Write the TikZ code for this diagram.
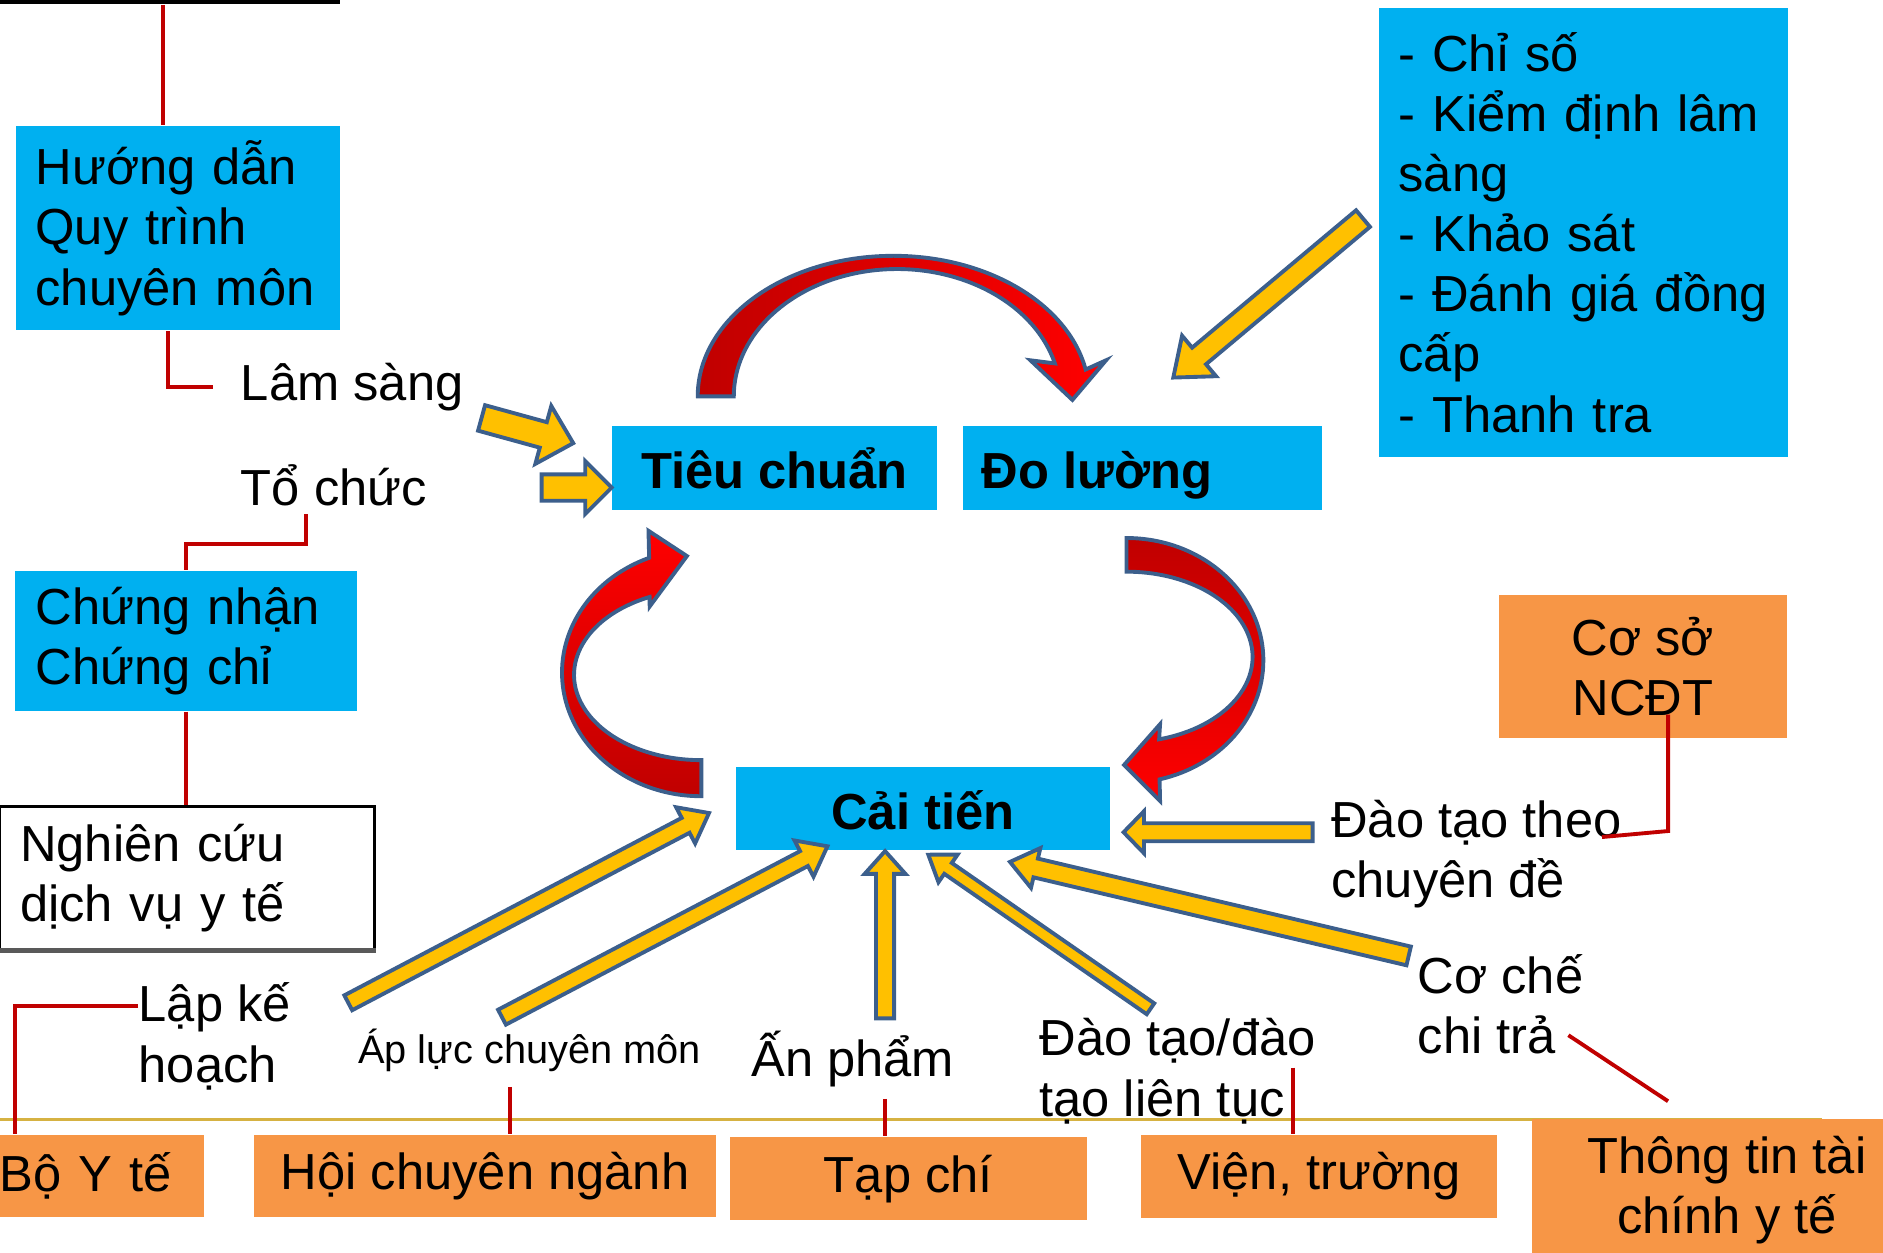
\documentclass[tikz,border=0pt]{standalone}
\usepackage{fontspec}
\setmainfont{Liberation Sans}
\usetikzlibrary{calc}
\lefthyphenmin=62

\definecolor{cyanbox}{RGB}{0,176,240}
\definecolor{orangebox}{RGB}{247,150,70}
\definecolor{yellowarr}{RGB}{255,192,0}
\definecolor{edgeblue}{RGB}{60,95,140}
\definecolor{linered}{RGB}{192,0,0}
\definecolor{darkred}{RGB}{192,0,0}
\definecolor{brightred}{RGB}{255,0,0}
\definecolor{goldline}{RGB}{214,178,66}

\tikzset{
  txt/.style={inner sep=0pt, font=\fontsize{14.4}{17.1}\selectfont},
  bluebox/.style={txt, fill=cyanbox},
  boldbox/.style={bluebox, font=\fontsize{14.4}{17.1}\selectfont\bfseries, text height=11.5pt, text depth=0pt},
  orangebx/.style={txt, fill=orangebox, align=center},
  redline/.style={draw=linered, line width=1.1pt},
  yarr/.style={fill=yellowarr, draw=edgeblue, line width=1.1pt, line join=miter},
  curvearr/.style={draw=edgeblue, line width=1.1pt, line join=miter},
}

% block arrow: tail, tip, shaft half width, head half width, head length
\newcommand{\blockarrow}[5]{%
  \coordinate (neck) at ($(#2)!#5!(#1)$);
  \draw[yarr] ($(#1)!#3!90:(#2)$) -- ($(neck)!#3!-90:(#1)$) -- ($(neck)!#4!-90:(#1)$) -- (#2)
    -- ($(neck)!#4!90:(#1)$) -- ($(neck)!#3!90:(#1)$) -- ($(#1)!#3!-90:(#2)$) -- cycle;
}

\begin{document}
\begin{tikzpicture}[x=0.012cm, y=-0.012cm]
\useasboundingbox (0,0) rectangle (1568,1043);
\clip (0,0) rectangle (1568,1043);

% boxes
\node[bluebox, minimum width=3.24cm, minimum height=2.04cm, text width=2.84cm, align=left] (hd) at (148,190) {Hướng dẫn\\Quy trình\\chuyên môn};
\node[bluebox, minimum width=3.41cm, minimum height=1.40cm, text width=3.01cm, align=left] (cn) at (155,533.5) {Chứng nhận\\Chứng chỉ};
\node[txt, draw=black, line width=0.8pt, fill=white, minimum width=3.74cm, minimum height=1.42cm, text width=3.34cm, align=left] (nc) at (156,731) {Nghiên cứu\\dịch vụ y tế};
\draw[gray!70!black, line width=1.4pt] (nc.south west) -- (nc.south east);
\node[boldbox, minimum width=3.24cm, minimum height=0.84cm] (tc) at (645,390) {Tiêu chuẩn};
\node[boldbox, minimum width=3.59cm, minimum height=0.84cm] (dl) at (951.5,390) {\makebox[3.21cm][l]{Đo lường}};
\node[boldbox, minimum width=3.73cm, minimum height=0.83cm] (ct) at (768.5,673.5) {Cải tiến};
\node[bluebox, minimum width=4.09cm, minimum height=4.48cm, text width=3.69cm, align=left] (lst) at (1318.5,193.5) {- Chỉ số\\- Kiểm định lâm\\sàng\\- Khảo sát\\- Đánh giá đồng\\cấp\\- Thanh tra};
\node[orangebx, minimum width=2.88cm, minimum height=1.42cm] (ncdt) at (1368,555) {Cơ sở\\NCĐT};

% bottom row
\draw[goldline, line width=0.9pt] (0,932) -- (1517,932);
\node[orangebx, text width=2.04cm, minimum height=0.82cm, align=left] (byt) at (85,979) {Bộ Y tế};
\node[orangebx, minimum width=4.61cm, minimum height=0.82cm] (hcn) at (404,979) {Hội chuyên ngành};
\node[orangebx, minimum width=3.56cm, minimum height=0.83cm] (tapc) at (756.5,981.5) {Tạp chí};
\node[orangebx, minimum width=3.56cm, minimum height=0.83cm] (vt) at (1098.5,979.5) {Viện, trường};
\node[orangebx, minimum width=3.89cm, minimum height=1.42cm] (ttc) at (1438,991) {Thông tin tài\\chính y tế};

% labels
\node[txt, anchor=west] (lam) at (200,322) {Lâm sàng};
\node[txt, anchor=west] (toc) at (200,404) {Tổ chức};
\node[txt, anchor=west, align=left] (lap) at (115,863) {Lập kế\\hoạch};
\node[inner sep=0pt, font=\fontsize{11.3}{13}\selectfont] (aplc) at (441,875) {Áp lực chuyên môn};
\node[txt] (anp) at (710,882) {Ấn phẩm};
\node[txt, anchor=west, align=left] (dtlt) at (865,892) {Đào tạo/đào\\tạo liên tục};
\node[txt, anchor=west, align=left] (cctr) at (1180,836) {Cơ chế\\chi trả};
\node[txt, anchor=west, align=left] (dtcd) at (1108,711) {Đào tạo theo\\chuyên đề};

% red links
\draw[black, line width=1pt] (0,1.5) -- (283,1.5);
\coordinate (hdtop) at (136,4);
\draw[redline] (hdtop) -- (hdtop |- hd.north);
\draw[redline] ($(hd.south)+(-8,0)$) |- ($(lam.west)+(-23,0)$);
\coordinate (tocfoot) at (255,428);
\draw[redline] (tocfoot) -- ++(0,25) -| (cn.north);
\draw[redline] (cn.south) -- (cn.south |- nc.north);
\draw[redline] ($(lap.west)+(0,-25)$) -| ($(byt.north west)+(13,0)$);
\coordinate (apfoot) at (425,905);
\draw[redline] (apfoot) -- (apfoot |- hcn.north);
\coordinate (anfoot) at (737,915);
\draw[redline] (anfoot) -- (anfoot |- tapc.north);
\coordinate (dtfoot) at (1077,889);
\draw[redline] (dtfoot) -- (dtfoot |- vt.north);
\coordinate (ccfoot) at (1306,862);
\coordinate (ttcfoot) at (1389,917);
\draw[redline] (ccfoot) -- (ttcfoot);
\coordinate (ncfoot) at ($(ncdt.center)+(21,40)$);
\coordinate (cdjoin) at (1334,697);
\draw[redline] (ncfoot) -- ++(0,97) -- (cdjoin);

% yellow arrows
\coordinate (a1tail) at (401,348);  \coordinate (a1tip) at ($(tc.west)+(-32,-21)$);
\coordinate (a2tail) at (451,406);  \coordinate (a2tip) at ($(tc.west)+(0,16)$);
\coordinate (a3tail) at (1135,182); \coordinate (a3tip) at ($(dl.north)+(25.5,-40)$);
\coordinate (b1tail) at (290,835);  \coordinate (b1tip) at ($(ct.west)+(-22,3.5)$);
\coordinate (b2tail) at (418,847);  \coordinate (b2tip) at ($(ct.south)+(-79.5,-4)$);
\coordinate (b3tail) at (737,848);  \coordinate (b3tip) at ($(ct.south)+(-31.5,0)$);
\coordinate (b4tail) at (958,840);  \coordinate (b4tip) at ($(ct.south)+(4.5,3)$);
\coordinate (b5tail) at (1173,796); \coordinate (b5tip) at ($(ct.south)+(72.5,9)$);
\coordinate (b6tail) at (1093,693); \coordinate (b6tip) at ($(ct.east)+(11,19.5)$);
\blockarrow{a1tail}{a1tip}{0.132cm}{0.30cm}{0.31cm}
\blockarrow{a2tail}{a2tip}{0.132cm}{0.264cm}{0.264cm}
\blockarrow{a3tail}{a3tip}{0.108cm}{0.264cm}{0.336cm}
\blockarrow{b1tail}{b1tip}{0.084cm}{0.204cm}{0.264cm}
\blockarrow{b2tail}{b2tip}{0.084cm}{0.204cm}{0.264cm}
\blockarrow{b3tail}{b3tip}{0.09cm}{0.204cm}{0.228cm}
\blockarrow{b4tail}{b4tip}{0.066cm}{0.168cm}{0.24cm}
\blockarrow{b5tail}{b5tip}{0.096cm}{0.204cm}{0.264cm}
\blockarrow{b6tail}{b6tip}{0.09cm}{0.21cm}{0.204cm}

% red cycle arrows
\shadedraw[curvearr, left color=darkred, right color=brightred]
  (581,330) arc[start angle=180, end angle=349, x radius=163, y radius=117]
  -- (921,300) -- (893,333) -- (858,300) -- (878.4,302.6)
  arc[start angle=345, end angle=180, x radius=136, y radius=106] -- cycle;
\shadedraw[curvearr, top color=darkred, bottom color=brightred]
  (938,448) arc[start angle=270, end angle=436, x radius=114, y radius=102]
  -- (966,667) -- (936,637) -- (966,603) -- (965.2,615.6)
  arc[start angle=435, end angle=270, x radius=105, y radius=71] -- cycle;
\shadedraw[curvearr, bottom color=darkred, top color=brightred]
  (584,663) arc[start angle=90, end angle=248, x radius=116, y radius=103]
  -- (540,442) -- (572,463) -- (541,505) -- (540.9,497.1)
  arc[start angle=246, end angle=90, x radius=106, y radius=71] -- cycle;
\end{tikzpicture}
\end{document}
